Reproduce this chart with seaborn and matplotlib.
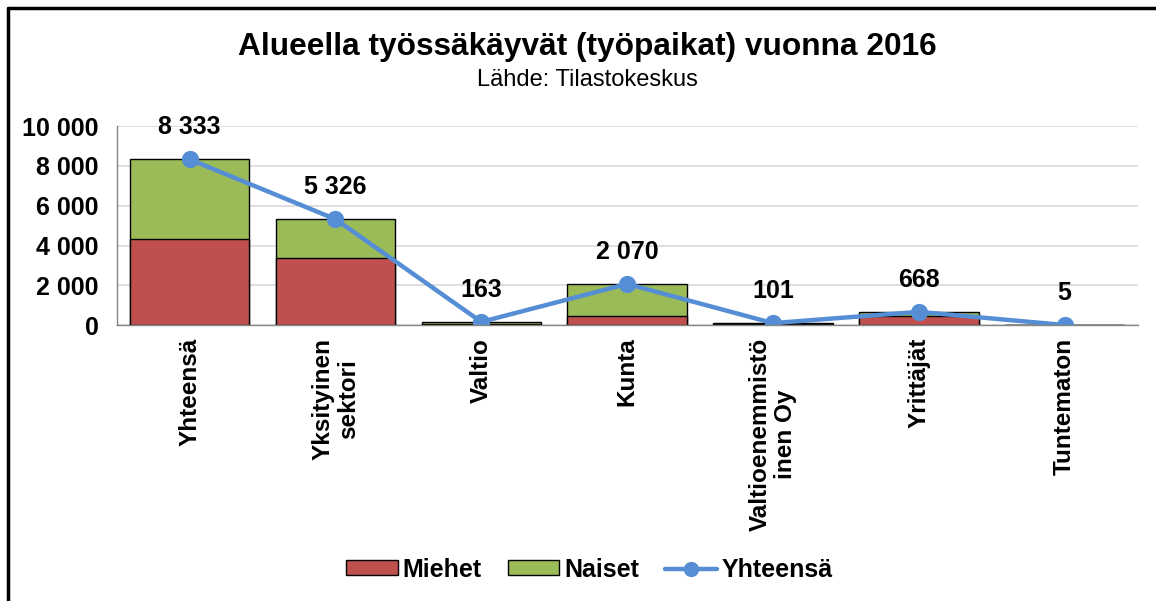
import pandas as pd
import seaborn as sns
import matplotlib.pyplot as plt
from matplotlib.patches import Patch
from matplotlib.lines import Line2D
from matplotlib.ticker import FuncFormatter

categories = ['Yhteensä', 'Yksityinen\nsektori', 'Valtio', 'Kunta',
              'Valtioenemmistö\ninen Oy', 'Yrittäjät', 'Tuntematon']
miehet = [4350, 3400, 80, 450, 60, 450, 3]
naiset = [3983, 1926, 83, 1620, 41, 218, 2]
yhteensa = [8333, 5326, 163, 2070, 101, 668, 5]

df = pd.DataFrame({'Sektori': categories, 'Miehet': miehet,
                   'Naiset': naiset, 'Yhteensä': yhteensa})
df['Pino'] = df['Miehet'] + df['Naiset']

sns.set_style('white')
plt.rcParams['font.family'] = ['Liberation Sans', 'DejaVu Sans']
plt.rcParams['text.color'] = 'black'
plt.rcParams['xtick.color'] = 'black'
plt.rcParams['ytick.color'] = 'black'

red = '#C0504D'
green = '#9BBB59'
blue = '#558ED5'

fig = plt.figure(figsize=(11.56, 6.01), dpi=100)
ax = fig.add_axes([0.101, 0.459, 0.883, 0.331])

# stacked bars: total in green, men drawn over it in red
sns.barplot(data=df, x='Sektori', y='Pino', color=green, width=0.82,
            edgecolor='black', linewidth=1, saturation=1, ax=ax)
sns.barplot(data=df, x='Sektori', y='Miehet', color=red, width=0.82,
            edgecolor='black', linewidth=1, saturation=1, ax=ax)
sns.pointplot(data=df, x='Sektori', y='Yhteensä', color=blue, markers='o',
              markersize=10, linewidth=3.2, ax=ax)

for i, v in enumerate(yhteensa):
    ax.annotate(f'{v:,}'.replace(',', ' '), (i, v), xytext=(0, 23),
                textcoords='offset points', ha='center', va='center',
                fontsize=18, fontweight='bold')

ax.set_ylim(0, 10000)
ax.set_xlim(-0.5, len(categories) - 0.5)
ax.set_yticks(range(0, 10001, 2000))
ax.yaxis.set_major_formatter(FuncFormatter(lambda v, p: f'{int(v):,}'.replace(',', ' ')))
ax.yaxis.grid(True, color='#d9d9d9', linewidth=1.2)
ax.set_axisbelow(True)
ax.set_xlabel('')
ax.set_ylabel('')
for s in ['top', 'right']:
    ax.spines[s].set_visible(False)
for s in ['left', 'bottom']:
    ax.spines[s].set_color('#868686')
    ax.spines[s].set_linewidth(1)
ax.tick_params(axis='y', length=0, pad=13, labelsize=18)
ax.tick_params(axis='x', length=0, pad=9, labelsize=17.5)
for lab in ax.get_yticklabels():
    lab.set_fontweight('bold')
for lab in ax.get_xticklabels():
    lab.set_fontweight('bold')
    lab.set_rotation(90)
    lab.set_multialignment('center')
    lab.set_linespacing(1.15)

fig.text(0.508, 0.922, 'Alueella työssäkäyvät (työpaikat) vuonna 2016',
         ha='center', va='center', fontsize=22.8, fontweight='bold')
fig.text(0.508, 0.867, 'Lähde: Tilastokeskus', ha='center', va='center', fontsize=17)

handles = [Patch(facecolor=red, edgecolor='black', label='Miehet'),
           Patch(facecolor=green, edgecolor='black', label='Naiset'),
           Line2D([0], [0], color=blue, lw=3.2, marker='o', markersize=10, label='Yhteensä')]
fig.legend(handles=handles, loc='center', bbox_to_anchor=(0.51, 0.052), ncol=3,
           frameon=False, prop={'size': 18, 'weight': 'bold'}, handlelength=2.05,
           handleheight=0.55, columnspacing=1.05, handletextpad=0.2)

# frame of the original screenshot (left and top edges)
fig.add_artist(Line2D([0.0065, 0.0065], [0, 0.987], color='black', lw=2.5, transform=fig.transFigure))
fig.add_artist(Line2D([0.0065, 1], [0.987, 0.987], color='black', lw=2.5, transform=fig.transFigure))

plt.savefig('out.png', dpi=100)
